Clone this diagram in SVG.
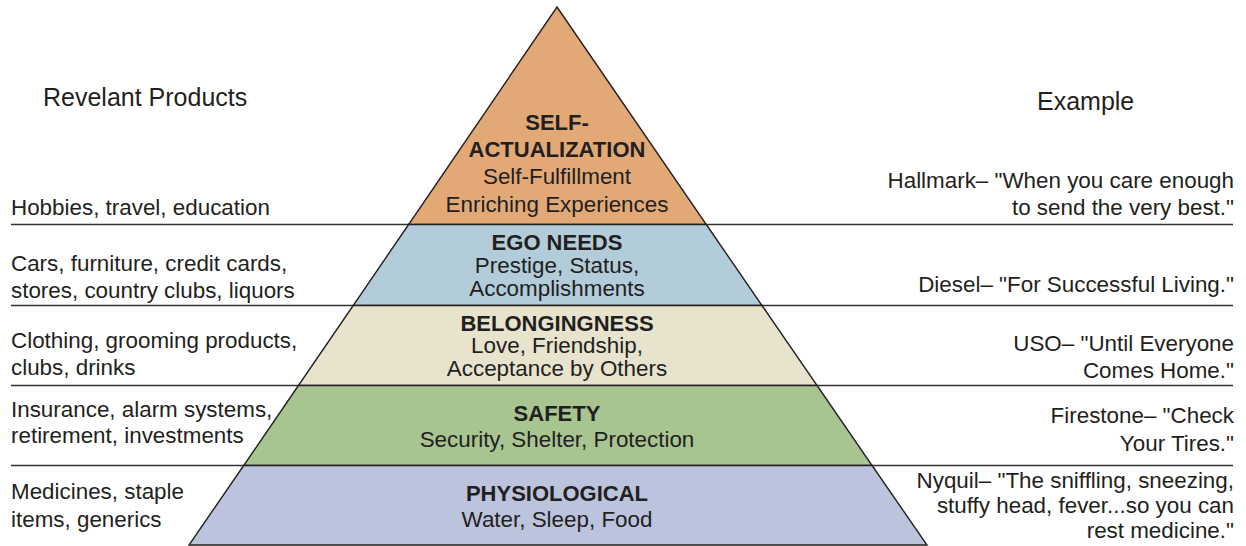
<svg xmlns="http://www.w3.org/2000/svg" width="1246" height="546" viewBox="0 0 1246 546">
<style>
text{font-family:"Liberation Sans",Arial,sans-serif;font-size:22.4px;fill:#231f20}
.b{font-weight:bold;font-size:22px}
.c{text-anchor:middle}
.r{text-anchor:end}
.h{font-size:25px}
.rule{stroke:#333;stroke-width:1.6;fill:none}
.band{stroke:#231f20;stroke-width:1.4;stroke-linejoin:miter}
</style>
<rect width="1246" height="546" fill="#fff"/>
<g id="rules">
<line class="rule" x1="11" y1="224.5" x2="1233" y2="224.5"/>
<line class="rule" x1="11" y1="305.5" x2="1233" y2="305.5"/>
<line class="rule" x1="11" y1="385.5" x2="1233" y2="385.5"/>
<line class="rule" x1="11" y1="465.5" x2="1233" y2="465.5"/>
</g>
<g id="self-actualization">
<polygon class="band" fill="#e2a977" points="557,7 706.3,224.5 408.6,224.5"/>
<text class="b c" x="557" y="130">SELF-</text>
<text class="b c" x="557" y="157">ACTUALIZATION</text>
<text class="c" x="557" y="184">Self-Fulfillment</text>
<text class="c" x="557" y="212">Enriching Experiences</text>
</g>
<g id="ego-needs">
<polygon class="band" fill="#b2ccda" points="408.6,224.5 706.3,224.5 762,305.5 353.2,305.5"/>
<text class="b c" x="557" y="250">EGO NEEDS</text>
<text class="c" x="557" y="272.5">Prestige, Status,</text>
<text class="c" x="557" y="296">Accomplishments</text>
</g>
<g id="belongingness">
<polygon class="band" fill="#e7e3cc" points="353.2,305.5 762,305.5 817.1,385.5 298.4,385.5"/>
<text class="b c" x="557" y="330.5">BELONGINGNESS</text>
<text class="c" x="557" y="353">Love, Friendship,</text>
<text class="c" x="557" y="376">Acceptance by Others</text>
</g>
<g id="safety">
<polygon class="band" fill="#a7c491" points="298.4,385.5 817.1,385.5 872.1,465.5 243.7,465.5"/>
<text class="b c" x="557" y="421">SAFETY</text>
<text class="c" x="557" y="447">Security, Shelter, Protection</text>
</g>
<g id="physiological">
<polygon class="band" fill="#bcc3dd" points="243.7,465.5 872.1,465.5 927,545 189,545"/>
<text class="b c" x="557" y="501">PHYSIOLOGICAL</text>
<text class="c" x="557" y="527">Water, Sleep, Food</text>
</g>
<g id="products">
<text class="h" x="43" y="106">Revelant Products</text>
<text x="11" y="215">Hobbies, travel, education</text>
<text x="11" y="271">Cars, furniture, credit cards,</text>
<text x="11" y="298">stores, country clubs, liquors</text>
<text x="11" y="348">Clothing, grooming products,</text>
<text x="11" y="375">clubs, drinks</text>
<text x="11" y="417">Insurance, alarm systems,</text>
<text x="11" y="443">retirement, investments</text>
<text x="11" y="499">Medicines, staple</text>
<text x="11" y="527">items, generics</text>
</g>
<g id="examples" xml:space="preserve">
<text class="h" x="1037" y="110">Example</text>
<text class="r" x="1234" y="188">Hallmark– "When you care enough </text>
<text class="r" x="1234" y="215">to send the very best."</text>
<text class="r" x="1234" y="292">Diesel– "For Successful Living."</text>
<text class="r" x="1234" y="351">USO– "Until Everyone </text>
<text class="r" x="1234" y="378">Comes Home."</text>
<text class="r" x="1234" y="423">Firestone– "Check </text>
<text class="r" x="1234" y="451">Your Tires."</text>
<text class="r" x="1234" y="488">Nyquil– "The sniffling, sneezing,</text>
<text class="r" x="1234" y="513">stuffy head, fever...so you can</text>
<text class="r" x="1234" y="538">rest medicine."</text>
</g>
</svg>
